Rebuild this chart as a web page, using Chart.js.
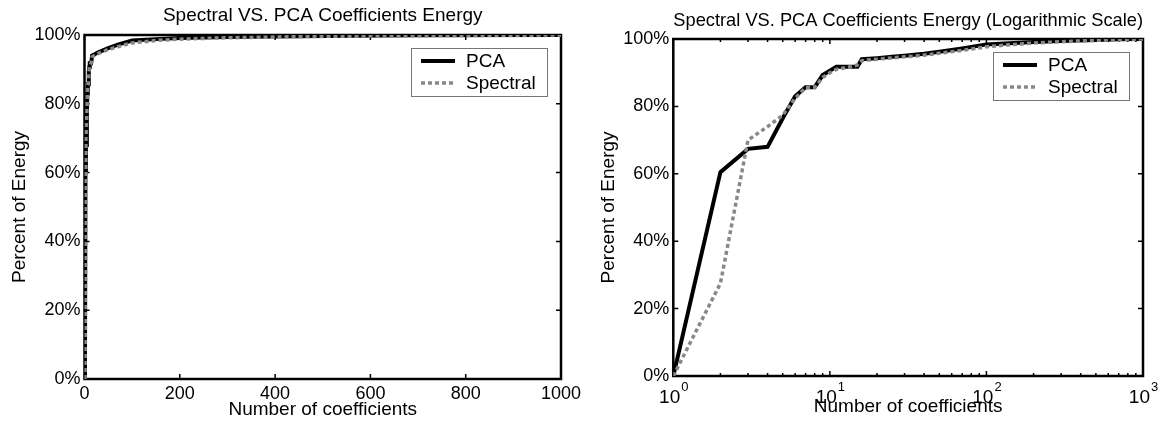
<!DOCTYPE html>
<html lang="en">
<head>
    <meta charset="UTF-8">
    <title>Spectral VS. PCA Coefficients Energy</title>
    <script src="https://cdn.jsdelivr.net/npm/chart.js"></script>
    <style>
        body { margin: 0; background: #fff; }
        #esq { position: absolute; left: 0; top: 0; }
        #dir { position: absolute; left: 590px; top: 0; }
    </style>
</head>
<body>
    <canvas id="esq" width="590" height="425"></canvas>
    <canvas id="dir" width="573" height="425"></canvas>

    <script>
        // valores (percentual acumulado de energia)
        const coeficientes = [1, 2, 3, 4, 5, 6, 7, 8, 9, 10, 11, 12, 13, 14, 15, 16, 20, 25, 30, 40, 50, 70, 100, 150, 200, 300, 500, 700, 1000];
        const pca = [0, 60.5, 67.4, 68, 76.5, 83, 85.7, 85.7, 89.3, 90.6, 91.8, 91.8, 91.8, 91.8, 91.8, 94, 94.3, 94.7, 95, 95.6, 96.2, 97.2, 98.4, 98.8, 99.1, 99.4, 99.7, 99.9, 100];
        const spectral = [0, 27.5, 70, 74, 77.4, 82.4, 85.6, 85.7, 88.6, 90, 91, 91.3, 91.6, 91.9, 92.3, 93.6, 94, 94.4, 94.7, 95.2, 95.8, 96.6, 97.7, 98.4, 98.8, 99.2, 99.6, 99.8, 100];
        const ticksY = [0, 20, 40, 60, 80, 100];
        const ticksXLinear = [0, 200, 400, 600, 800, 1000];
        const ticksXLog = [1, 10, 100, 1000];

        const fonte = 'Arial, "Liberation Sans", sans-serif';

        function pontos(valores) {
            return coeficientes.map((c, i) => ({ x: c, y: valores[i] }));
        }

        function datasets() {
            return [{
                label: 'PCA',
                data: pontos(pca),
                borderColor: '#000',
                borderWidth: 4,
                pointRadius: 0,
                tension: 0,
                order: 1
            }, {
                label: 'Spectral',
                data: pontos(spectral),
                borderColor: '#888',
                borderWidth: 3.5,
                borderDash: [4, 3],
                pointRadius: 0,
                tension: 0,
                order: 0
            }];
        }

        // moldura, ticks para dentro, legenda e rotulos 10^n
        const moldura = {
            id: 'moldura',
            beforeDatasetsDraw(chart, args, opts) {
                const { ctx, chartArea: a, scales: { x, y } } = chart;
                ctx.save();
                ctx.strokeStyle = '#000';
                ctx.lineWidth = 2.5;
                ctx.strokeRect(a.left, a.top, a.right - a.left, a.bottom - a.top);
                ctx.lineWidth = 1.5;
                ctx.beginPath();
                ticksY.forEach(v => {
                    const p = y.getPixelForValue(v);
                    ctx.moveTo(a.left, p); ctx.lineTo(a.left + 5, p);
                    ctx.moveTo(a.right, p); ctx.lineTo(a.right - 5, p);
                });
                const marca = (v, t) => {
                    const p = x.getPixelForValue(v);
                    ctx.moveTo(p, a.bottom); ctx.lineTo(p, a.bottom - t);
                    ctx.moveTo(p, a.top); ctx.lineTo(p, a.top + t);
                };
                opts.major.forEach(v => marca(v, 5));
                if (opts.log) {
                    [1, 10, 100].forEach(d => {
                        for (let k = 2; k <= 9; k++) marca(d * k, 3);
                    });
                }
                ctx.stroke();
                ctx.restore();
            },
            afterDraw(chart, args, opts) {
                const { ctx, chartArea: a, scales: { x } } = chart;
                ctx.save();
                // legenda
                const bx = a.right - 14 - 136, by = a.top + 13;
                ctx.fillStyle = '#fff';
                ctx.fillRect(bx, by, 136, 48);
                ctx.strokeStyle = '#777';
                ctx.lineWidth = 1;
                ctx.strokeRect(bx + 0.5, by + 0.5, 136, 48);
                chart.data.datasets.forEach((ds, i) => {
                    const ly = by + 13 + i * 22;
                    ctx.strokeStyle = ds.borderColor;
                    ctx.lineWidth = ds.borderWidth;
                    ctx.setLineDash(ds.borderDash || []);
                    ctx.beginPath();
                    ctx.moveTo(bx + 10, ly);
                    ctx.lineTo(bx + 44, ly);
                    ctx.stroke();
                    ctx.setLineDash([]);
                    ctx.fillStyle = '#000';
                    ctx.font = '19px ' + fonte;
                    ctx.textBaseline = 'middle';
                    ctx.textAlign = 'left';
                    ctx.fillText(ds.label, bx + 55, ly + 1);
                });
                // rotulos 10^n do eixo logaritmico
                if (opts.log) {
                    ctx.fillStyle = '#000';
                    ctx.textBaseline = 'alphabetic';
                    ctx.textAlign = 'left';
                    ticksXLog.forEach(v => {
                        const ex = String(Math.round(Math.log10(v)));
                        ctx.font = '19px ' + fonte;
                        const w1 = ctx.measureText('10').width;
                        ctx.font = '13px ' + fonte;
                        const w2 = ctx.measureText(ex).width;
                        const x0 = x.getPixelForValue(v) - (w1 + w2) / 2;
                        ctx.font = '19px ' + fonte;
                        ctx.fillText('10', x0, a.bottom + 27);
                        ctx.font = '13px ' + fonte;
                        ctx.fillText(ex, x0 + w1 + 1, a.bottom + 15);
                    });
                }
                ctx.restore();
            }
        };

        function opcoes(log, titulo, pad) {
            return {
                responsive: false,
                animation: false,
                devicePixelRatio: 1,
                layout: { padding: { left: 0, right: pad.right, top: 0, bottom: 0 } },
                plugins: {
                    legend: { display: false },
                    tooltip: { enabled: false },
                    title: {
                        display: true,
                        text: titulo,
                        fullSize: false,
                        color: '#000',
                        font: { family: fonte, size: 19, weight: 'normal' },
                        padding: { top: pad.tTop, bottom: pad.tBottom }
                    },
                    moldura: { log: log, major: log ? ticksXLog : ticksXLinear }
                },
                scales: {
                    x: {
                        type: log ? 'logarithmic' : 'linear',
                        min: log ? 1 : 0,
                        max: 1000,
                        afterBuildTicks: s => { s.ticks = (log ? ticksXLog : ticksXLinear).map(v => ({ value: v })); },
                        afterFit: s => { s.height = pad.xh; },
                        grid: { display: false, drawTicks: false },
                        border: { display: false },
                        ticks: {
                            display: !log,
                            color: '#000',
                            padding: 4,
                            maxRotation: 0,
                            autoSkip: false,
                            font: { family: fonte, size: 18 },
                            callback: v => String(v)
                        },
                        title: {
                            display: true,
                            text: 'Number of coefficients',
                            color: '#000',
                            font: { family: fonte, size: 19 },
                            padding: { top: 0, bottom: pad.xt }
                        }
                    },
                    y: {
                        min: 0,
                        max: 100,
                        afterBuildTicks: s => { s.ticks = ticksY.map(v => ({ value: v })); },
                        afterFit: s => { s.width = pad.yw; },
                        grid: { display: false, drawTicks: false },
                        border: { display: false },
                        ticks: {
                            color: '#000',
                            padding: 4,
                            font: { family: fonte, size: 18 },
                            callback: v => v + '%'
                        },
                        title: {
                            display: true,
                            text: 'Percent of Energy',
                            color: '#000',
                            font: { family: fonte, size: 19 },
                            padding: { top: pad.yt, bottom: 0 }
                        }
                    }
                }
            };
        }

        new Chart(document.getElementById('esq'), {
            type: 'line',
            data: { datasets: datasets() },
            options: opcoes(false, 'Spectral VS. PCA Coefficients Energy',
                { right: 29, tTop: 4, tBottom: 8.2, xh: 46, xt: 3.6, yw: 84.5, yt: 8.1 }),
            plugins: [moldura]
        });

        new Chart(document.getElementById('dir'), {
            type: 'line',
            data: { datasets: datasets() },
            options: opcoes(true, 'Spectral VS. PCA Coefficients Energy (Logarithmic Scale)',
                { right: 20, tTop: 9.5, tBottom: 6.7, xh: 49, xt: 6.6, yw: 83.3, yt: 7.6 }),
            plugins: [moldura]
        });
    </script>
</body>
</html>
